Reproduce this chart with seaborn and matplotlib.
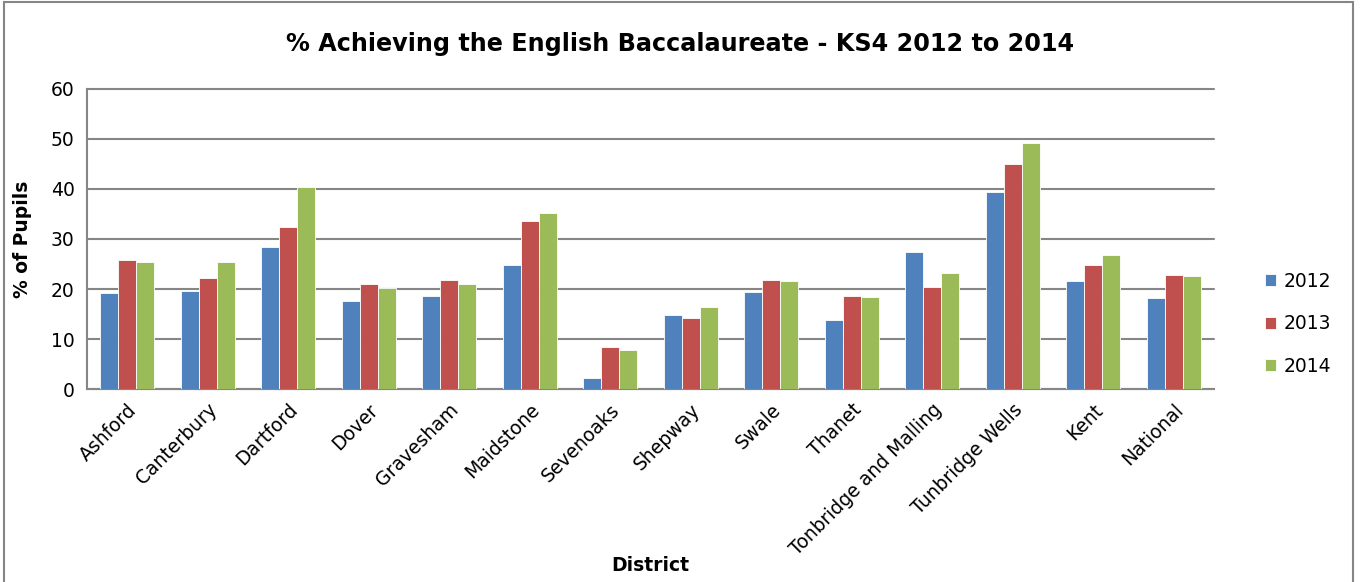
import numpy as np
import pandas as pd
import matplotlib
matplotlib.use("Agg")
import matplotlib.pyplot as plt
import seaborn as sns
from matplotlib.patches import Rectangle

# Data
districts = ["Ashford", "Canterbury", "Dartford", "Dover", "Gravesham", "Maidstone",
             "Sevenoaks", "Shepway", "Swale", "Thanet", "Tonbridge and Malling",
             "Tunbridge Wells", "Kent", "National"]
years = ["2012", "2013", "2014"]
pct_2012 = [19.3, 19.6, 28.3, 17.7, 18.7, 24.8, 2.2, 14.9, 19.5, 13.9, 27.3, 39.3, 21.6, 18.2]
pct_2013 = [25.8, 22.3, 32.4, 21.1, 21.9, 33.6, 8.4, 14.3, 21.9, 18.7, 20.5, 44.9, 24.9, 22.9]
pct_2014 = [25.3, 25.4, 40.4, 20.2, 21.1, 35.2, 7.9, 16.4, 21.6, 18.5, 23.3, 49.2, 26.7, 22.7]
colors = ["#4F81BD", "#C0504D", "#9BBB59"]

df = pd.DataFrame({
    "District": districts * 3,
    "Year": [y for y in years for _ in districts],
    "Pct": pct_2012 + pct_2013 + pct_2014,
})

sns.set_style("white")
plt.rcParams["font.family"] = ["DejaVu Sans"]
plt.rcParams["text.color"] = "black"
plt.rcParams["axes.labelcolor"] = "black"
plt.rcParams["xtick.labelcolor"] = "black"
plt.rcParams["ytick.labelcolor"] = "black"
grid_col = "#868686"

fig = plt.figure(figsize=(13.6, 5.82), dpi=100)
ax = fig.add_axes([0.064, 0.3316, 0.8286, 0.5155])

sns.barplot(data=df, x="District", y="Pct", hue="Year", palette=colors,
            width=0.67, saturation=1, edgecolor="white", linewidth=0.6,
            ax=ax, zorder=3)

ax.set_ylim(0, 60)
ax.set_yticks(np.arange(0, 61, 10))
ax.set_xlim(-0.5, len(districts) - 0.5)
ax.yaxis.grid(True, color=grid_col, linewidth=1.5)
for gl in ax.get_ygridlines():
    gl.set_clip_on(False)
ax.set_axisbelow(True)

for side in ["top", "right"]:
    ax.spines[side].set_visible(False)
for side in ["left", "bottom"]:
    ax.spines[side].set_color(grid_col)
    ax.spines[side].set_linewidth(1.5)

# category boundary ticks below the axis
ax.set_xticks(np.arange(-0.5, len(districts)), minor=True)
ax.tick_params(axis="x", which="minor", length=6, width=1.5, color=grid_col, direction="out")
ax.tick_params(axis="x", which="major", length=0, pad=8)
ax.tick_params(axis="y", length=6, width=1.5, color=grid_col, direction="out", pad=3)
ax.set_xticks(range(len(districts)))
ax.set_xticklabels(districts, rotation=45, ha="right", rotation_mode="anchor", fontsize=13.5)
for lab in ax.get_yticklabels():
    lab.set_fontsize(13.5)

ax.set_xlabel("District", fontsize=13.5, fontweight="bold")
ax.set_ylabel("% of Pupils", fontsize=13.5, fontweight="bold")
ax.xaxis.set_label_coords(0.5, -0.555)
ax.yaxis.set_label_coords(-0.049, 0.5)

fig.suptitle("% Achieving the English Baccalaureate - KS4 2012 to 2014",
             x=0.5, y=0.945, fontsize=17.2, fontweight="bold")

handles, labels = ax.get_legend_handles_labels()
ax.legend(handles, labels, loc="center left", bbox_to_anchor=(1.03, 0.217),
          frameon=False, fontsize=13.5, handlelength=0.6, handleheight=0.6,
          handletextpad=0.4, labelspacing=1.25)

fig.patches.append(Rectangle((0.003, -0.01), 0.992, 1.006, transform=fig.transFigure,
                             fill=False, edgecolor=grid_col, linewidth=1.5))

fig.savefig("out.png", dpi=100)
